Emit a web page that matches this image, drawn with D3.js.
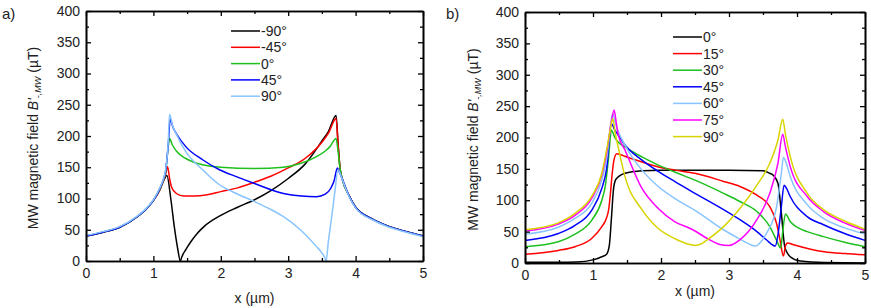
<!DOCTYPE html>
<html>
  <head>
    <meta charset="utf-8">
    <script src="https://d3js.org/d3.v7.min.js"></script>
    <title>MW magnetic field</title>
    <style>
      body { margin: 0px; background: #fff; }
      svg { font-family: "Liberation Sans", Arial, sans-serif; }
    </style>
  </head>
  <body>
    <svg width="871" height="308"></svg>
    <script>
      // x in um, field in uT
      const xTicks = [0, 1, 2, 3, 4, 5];
      const yTicks = [0, 50, 100, 150, 200, 250, 300, 350, 400];

      // panel a) angle series
      const labelsA = ['-90°', '-45°', '0°', '45°', '90°'];
      const colorsA = ['#000000', '#ff0000', '#1ec01e', '#0000ff', '#88c4ff'];

      const aM90 = [[0,40],[0.25,46],[0.5,54],[0.75,70],[0.9,84],[1.0,97],[1.1,115],[1.15,128],[1.2,137],[1.26,98],[1.31,55],[1.36,20],[1.4,0],[1.42,6],[1.44,11],[1.48,18],[1.55,30],[1.65,44],[1.75,55],[2.0,73],[2.25,86],[2.5,98],[2.75,113],[3.0,132],[3.25,155],[3.5,192],[3.6,208],[3.71,233],[3.74,188],[3.77,148],[3.8,132],[3.9,105],[4.0,86],[4.25,67],[4.5,55],[4.75,47],[5,40]];
      const aM45 = [[0,40],[0.25,46],[0.5,54],[0.75,70],[0.9,84],[1.0,97],[1.1,115],[1.15,129],[1.18,138],[1.21,151],[1.24,132],[1.27,118],[1.34,108],[1.45,104],[1.6,104],[1.8,106],[2.0,111],[2.25,117],[2.5,126],[2.75,136],[3.0,149],[3.25,164],[3.5,190],[3.6,205],[3.71,228],[3.74,186],[3.77,147],[3.8,132],[3.9,105],[4.0,86],[4.25,67],[4.5,55],[4.75,47],[5,40]];
      const a0 = [[0,40],[0.25,46],[0.5,54],[0.75,70],[0.9,84],[1.0,97],[1.1,116],[1.15,130],[1.18,141],[1.21,172],[1.24,196],[1.28,186],[1.34,176],[1.48,164],[1.6,158],[1.73,154],[2.0,150],[2.5,148],[2.93,150],[3.18,156],[3.42,167],[3.55,176],[3.62,183],[3.71,196],[3.74,175],[3.77,148],[3.8,132],[3.9,105],[4.0,86],[4.25,67],[4.5,55],[4.75,47],[5,40]];
      const a45 = [[0,40],[0.25,46],[0.5,54],[0.75,70],[0.9,84],[1.0,97],[1.1,117],[1.15,131],[1.18,143],[1.22,186],[1.25,227],[1.29,214],[1.34,204],[1.48,183],[1.73,162],[1.98,146],[2.23,135],[2.5,124],[2.93,108],[3.2,104],[3.42,103],[3.55,107],[3.63,116],[3.68,128],[3.73,149],[3.76,142],[3.8,132],[3.9,105],[4.0,86],[4.25,67],[4.5,55],[4.75,47],[5,40]];
      const a90 = [[0,41],[0.25,47],[0.5,55],[0.75,71],[0.9,85],[1.0,98],[1.1,118],[1.15,132],[1.18,145],[1.22,190],[1.24,235],[1.28,218],[1.34,203],[1.48,175],[1.73,146],[1.98,122],[2.23,108],[2.5,95],[2.75,82],[2.93,71],[3.18,50],[3.42,23],[3.5,13],[3.54,6],[3.56,0],[3.6,35],[3.64,66],[3.69,109],[3.74,146],[3.77,140],[3.8,131],[3.9,104],[4.0,85],[4.25,66],[4.5,54],[4.75,46],[5,39]];

      // panel b) angle series
      const labelsB = ['0°', '15°', '30°', '45°', '60°', '75°', '90°'];
      const colorsB = ['#000000', '#ff0000', '#1ec01e', '#0000ff', '#88c4ff', '#ff00ff', '#d8d400'];

      const b0 = [[0,1],[0.5,1],[0.75,1.5],[1.0,5],[1.13,10],[1.2,14],[1.24,28],[1.27,70],[1.3,116],[1.33,132],[1.38,138],[1.47,143],[1.72,147],[2.0,148],[2.5,148],[3.0,148],[3.5,147],[3.6,143],[3.65,140],[3.72,127],[3.77,79],[3.82,26],[3.9,10],[4.05,3],[4.4,0.6],[5,0]];
      const b15 = [[0,14],[0.49,20],[0.735,26],[0.98,39],[1.13,58],[1.2,72],[1.23,85],[1.26,115],[1.28,140],[1.31,165],[1.35,174],[1.4,173],[1.47,170],[1.72,161],[1.96,153],[2.2,148],[2.5,143],[2.92,130],[3.16,122],[3.41,108],[3.6,90],[3.7,63],[3.75,37],[3.8,11],[3.83,27],[3.86,32],[3.95,29],[4.2,22],[4.4,18],[4.7,15],[5,13]];
      const b30 = [[0,26],[0.49,34],[0.735,46],[0.98,68],[1.13,100],[1.18,122],[1.23,169],[1.27,212],[1.32,200],[1.37,193],[1.47,185],[1.72,169],[1.96,156],[2.2,145],[2.5,132],[2.92,111],[3.16,98],[3.41,82],[3.6,58],[3.7,36],[3.76,24],[3.79,50],[3.83,78],[3.9,66],[4.0,57],[4.15,50],[4.39,42],[4.7,33],[5,26]];
      const b45 = [[0,36],[0.49,47],[0.735,60],[0.98,84],[1.13,119],[1.2,150],[1.27,222],[1.32,212],[1.37,204],[1.47,188],[1.72,164],[1.96,146],[2.2,130],[2.5,111],[2.92,85],[3.16,69],[3.41,50],[3.55,37],[3.68,27],[3.72,45],[3.77,90],[3.81,124],[3.85,118],[3.9,106],[4.15,74],[4.39,61],[4.7,47],[5,36]];
      const b60 = [[0,46],[0.49,57],[0.735,71],[0.98,95],[1.13,132],[1.2,165],[1.29,238],[1.33,222],[1.37,210],[1.47,188],[1.72,148],[1.96,122],[2.2,103],[2.5,84],[2.92,53],[3.16,38],[3.3,30],[3.39,27],[3.47,34],[3.55,47],[3.7,90],[3.77,143],[3.8,168],[3.84,160],[3.9,138],[4.15,93],[4.39,71],[4.7,56],[5,46]];
      const b75 = [[0,51],[0.49,62],[0.735,76],[0.98,103],[1.13,140],[1.2,175],[1.27,225],[1.31,244],[1.34,225],[1.37,205],[1.47,180],[1.72,119],[1.96,87],[2.2,66],[2.43,55],[2.5,51],[2.68,39],[2.85,30],[3.0,28],[3.16,37],[3.41,69],[3.6,111],[3.72,159],[3.79,205],[3.83,185],[3.9,154],[4.15,106],[4.39,82],[4.7,64],[5,52]];
      const b90 = [[0,53],[0.49,64],[0.735,79],[0.98,106],[1.13,143],[1.2,180],[1.25,210],[1.29,230],[1.33,205],[1.37,185],[1.47,138],[1.72,85],[1.96,55],[2.2,39],[2.4,30],[2.5,28],[2.6,31],[2.68,37],[2.92,58],[3.16,87],[3.41,124],[3.6,159],[3.72,196],[3.79,229],[3.83,205],[3.9,170],[4.15,111],[4.39,85],[4.7,67],[5,54]];

      const svg = d3.select('svg');
      const fontSize = '14px';

      function drawPanel(p) {
        const xScale = d3.scaleLinear().domain([0, 5]).range([p.left, p.right]);
        const yScale = d3.scaleLinear().domain([0, 400]).range([p.bottom, p.top]);
        const g = svg.append('g');

        const line = d3.line()
          .x(d => xScale(d[0]))
          .y(d => yScale(d[1]))
          .curve(d3.curveMonotoneX);

        const plot = g.append('g');
        p.series.forEach((s, i) => {
          plot.append('path')
            .datum(s)
            .attr('d', line)
            .attr('fill', 'none')
            .attr('stroke', p.colors[i])
            .attr('stroke-width', 1.5);
        });

        // minor ticks
        const xMinor = d3.range(0.5, 5, 1);
        const yMinor = d3.range(25, 400, 50);
        const minor = (axis, sc, vals) => axis(sc).tickValues(vals).tickFormat('').tickSizeInner(-3).tickSizeOuter(0);

        g.append('g').attr('transform', `translate(0,${p.bottom})`).call(minor(d3.axisBottom, xScale, xMinor));
        g.append('g').attr('transform', `translate(0,${p.top})`).call(minor(d3.axisTop, xScale, xMinor));
        g.append('g').attr('transform', `translate(${p.left},0)`).call(minor(d3.axisLeft, yScale, yMinor));
        g.append('g').attr('transform', `translate(${p.right},0)`).call(minor(d3.axisRight, yScale, yMinor));

        g.append('g')
          .attr('transform', `translate(0,${p.bottom})`)
          .call(d3.axisBottom(xScale).tickValues(xTicks).tickFormat(d3.format('d')).tickSizeInner(-5).tickSizeOuter(0).tickPadding(7));
        g.append('g')
          .attr('transform', `translate(0,${p.top})`)
          .call(d3.axisTop(xScale).tickValues(xTicks).tickFormat('').tickSizeInner(-5).tickSizeOuter(0));
        g.append('g')
          .attr('transform', `translate(${p.left},0)`)
          .call(d3.axisLeft(yScale).tickValues(yTicks).tickFormat(d3.format('d')).tickSizeInner(-5).tickSizeOuter(0).tickPadding(6));
        g.append('g')
          .attr('transform', `translate(${p.right},0)`)
          .call(d3.axisRight(yScale).tickValues(yTicks).tickFormat('').tickSizeInner(-5).tickSizeOuter(0));

        g.selectAll('.domain').attr('stroke', '#000').attr('stroke-width', 1.6);
        g.selectAll('.tick line').attr('stroke', '#000').attr('stroke-width', 1.3);
        g.selectAll('.tick text').attr('font-size', fontSize).attr('fill', '#222')
          .attr('font-family', '"Liberation Sans", Arial, sans-serif');

        // legend
        const leg = g.append('g');
        p.labels.forEach((lab, i) => {
          const y = p.legY + i * p.legStep;
          leg.append('line')
            .attr('x1', p.legX).attr('x2', p.legX + 29)
            .attr('y1', y).attr('y2', y)
            .attr('stroke', p.colors[i]).attr('stroke-width', 1.5);
          leg.append('text')
            .attr('x', p.legX + 30).attr('y', y)
            .attr('dy', '0.36em')
            .attr('font-size', fontSize).attr('fill', '#222')
            .text(lab);
        });

        // axis titles
        g.append('text')
          .attr('x', (p.left + p.right) / 2).attr('y', p.xLabY)
          .attr('text-anchor', 'middle')
          .attr('font-size', fontSize).attr('fill', '#222')
          .text('x (µm)');

        const yl = g.append('text')
          .attr('transform', `translate(${p.yLabX},${(p.top + p.bottom) / 2 + 2}) rotate(-90)`)
          .attr('text-anchor', 'middle')
          .attr('font-size', fontSize).attr('fill', '#222');
        yl.append('tspan').text('MW magnetic field ');
        yl.append('tspan').attr('font-style', 'italic').text("B'");
        yl.append('tspan').attr('font-style', 'italic').attr('font-size', '9px').attr('dy', 3).text('-,MW');
        yl.append('tspan').attr('dy', -3).text(' (µT)');

        g.append('text')
          .attr('x', p.tagX).attr('y', 19)
          .attr('font-size', '15px').attr('fill', '#222')
          .text(p.tag);
      }

      drawPanel({
        left: 86, right: 423, top: 11, bottom: 261,
        series: [aM90, aM45, a0, a45, a90],
        labels: labelsA, colors: colorsA,
        legX: 231, legY: 31, legStep: 16.3,
        xLabY: 303, yLabX: 38, tagX: 2, tag: 'a)'
      });

      drawPanel({
        left: 525, right: 865, top: 12, bottom: 263,
        series: [b0, b15, b30, b45, b60, b75, b90],
        labels: labelsB, colors: colorsB,
        legX: 673, legY: 37, legStep: 16.6,
        xLabY: 296, yLabX: 478, tagX: 446, tag: 'b)'
      });
    </script>
  </body>
</html>
